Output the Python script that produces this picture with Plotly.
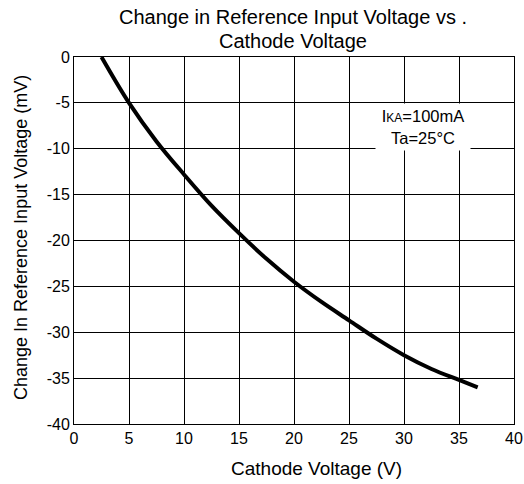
import plotly.graph_objects as go

cathode_v = [2.5, 5, 7.5, 10, 12.5, 15, 17.5, 20, 22.5, 25, 27.5, 30, 32.5, 35, 36.7]
delta_vref = [0, -5, -9.2, -12.8, -16.2, -19.2, -22.0, -24.5, -26.7, -28.7, -30.7, -32.5, -34.0, -35.2, -36.0]

x_ticks = [0, 5, 10, 15, 20, 25, 30, 35, 40]
y_ticks = [0, -5, -10, -15, -20, -25, -30, -35, -40]

FONT = "Liberation Sans, Arial, sans-serif"

OFF = 0  # body margin removed by post_script
W, H = 524, 484
L, R, T, B = 74, 10, 57, 60
PW, PH = W - L - R, H - T - B


def sx(px):  # screen px -> paper x
    return (px - OFF - L) / PW


def sy(py):  # screen px -> paper y
    return (H - B - (py - OFF)) / PH


fig = go.Figure()
fig.add_trace(go.Scatter(x=cathode_v, y=delta_vref, mode="lines",
                         line=dict(color="black", width=4, shape="spline"),
                         showlegend=False, hoverinfo="skip"))

fig.update_layout(
    width=W, height=H,
    margin=dict(l=L, r=R, t=T, b=B, autoexpand=False),
    paper_bgcolor="white", plot_bgcolor="white",
    font=dict(family=FONT, size=16, color="black"),
    xaxis=dict(range=[0, 40], tickvals=x_ticks, ticktext=[str(v) for v in x_ticks],
               showgrid=True, gridcolor="black", gridwidth=1, automargin=False,
               showline=True, linecolor="black", linewidth=1, mirror=True,
               zeroline=False, ticks="", tickfont=dict(size=16),
               ticklabeloverflow="allow"),
    yaxis=dict(range=[-40, 0], tickvals=y_ticks, ticktext=[str(v) for v in y_ticks],
               showgrid=True, gridcolor="black", gridwidth=1, automargin=False,
               showline=True, linecolor="black", linewidth=1, mirror=True,
               zeroline=False, ticks="", tickfont=dict(size=16),
               ticklabeloverflow="allow"),
    annotations=[
        dict(text="Change in Reference Input Voltage vs .", xref="paper", yref="paper",
             x=sx(293), y=sy(17), xanchor="center", yanchor="middle",
             showarrow=False, font=dict(size=20)),
        dict(text="Cathode Voltage", xref="paper", yref="paper",
             x=sx(293), y=sy(41), xanchor="center", yanchor="middle",
             showarrow=False, font=dict(size=20)),
        dict(text="Change In Reference Input Voltage (mV)", xref="paper", yref="paper",
             x=sx(21), y=sy(238), xanchor="center", yanchor="middle",
             textangle=-90, showarrow=False, font=dict(size=18)),
        dict(text="Cathode Voltage (V)", xref="paper", yref="paper",
             x=sx(316), y=sy(468), xanchor="center", yanchor="middle",
             showarrow=False, font=dict(size=19)),
        dict(text="I<span style='font-size:12px'>KA</span>=100mA<br>Ta=25\u00b0C",
             xref="x", yref="y", x=31.7, y=-7.6, xanchor="center", yanchor="middle",
             showarrow=False, bgcolor="white", font=dict(size=16.5),
             width=92, height=44),
    ],
)

fig.write_html(
    "out.html",
    config={"displayModeBar": False},
    post_script="document.body.style.margin='0';document.body.style.overflow='hidden';",
)
